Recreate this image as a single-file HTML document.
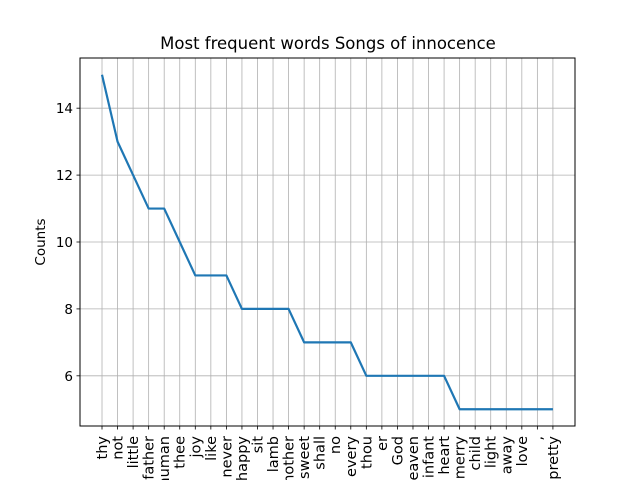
<!DOCTYPE html>
<html><head><meta charset="utf-8"><style>body{margin:0;background:#fff}svg{display:block;font-family:"DejaVu Sans","Liberation Sans",sans-serif}</style></head>
<body>
<svg id="c" width="640" height="480" viewBox="0 0 640 480">
<rect width="640" height="480" fill="#fff"/>
<text x="328" y="49" font-size="16.5" text-anchor="middle">Most frequent words Songs of innocence</text>
<text transform="translate(45,242) rotate(-90)" font-size="13.5" text-anchor="middle">Counts</text>
<g id="grid"></g><g id="ticks"></g><g id="series"></g>
<rect x="80" y="58" width="495" height="368" fill="none" stroke="#000" stroke-width="1"/>
</svg>
<script>
const words=["thy","not","little","father","human","thee","joy","like","never","happy","sit","lamb","mother","sweet","shall","no","every","thou","er","God","heaven","infant","heart","merry","child","light","away","love",",","pretty"];
const counts=[15,13,12,11,11,10,9,9,9,8,8,8,8,7,7,7,7,6,6,6,6,6,6,5,5,5,5,5,5,5];
const yTicks=[6,8,10,12,14];
const NS="http://www.w3.org/2000/svg";
const L=80,R=575,T=58,B=426;
const xmin=-1.415,xmax=words.length-1+1.42;
const ymin=4.5,ymax=15.5;
const xs=i=>L+(i-xmin)/(xmax-xmin)*(R-L);
const ys=v=>B-(v-ymin)/(ymax-ymin)*(B-T);
function mk(t,a,p){const e=document.createElementNS(NS,t);for(const k in a)e.setAttribute(k,a[k]);p.appendChild(e);return e;}
const g=document.getElementById('grid'),tk=document.getElementById('ticks'),s=document.getElementById('series');
words.forEach((w,i)=>{
 const x=xs(i);
 const gl=mk('line',{x1:x,x2:x,y1:T,y2:B,stroke:'#b0b0b0','stroke-width':0.8},g);
 
 
 const tl=mk('line',{x1:x,x2:x,y1:B,y2:B+3.5,stroke:'#000','stroke-width':0.8},tk);
 
 
 const t=mk('text',{transform:`translate(${x+5},${B+10}) rotate(-90)`,'font-size':14.5,'text-anchor':'end'},tk);
 t.textContent=w;
 
 
});
yTicks.forEach(v=>{
 const y=ys(v);
 const gl=mk('line',{x1:L,x2:R,y1:y,y2:y,stroke:'#b0b0b0','stroke-width':0.8},g);
 
 
 const tl=mk('line',{x1:L-3.5,x2:L,y1:y,y2:y,stroke:'#000','stroke-width':0.8},tk);
 
 
 const t=mk('text',{x:L-7,y:y+5,'font-size':13.5,'text-anchor':'end'},tk);
 t.textContent=v;
 
 
});
const pts=counts.map((c,i)=>xs(i)+','+ys(c)).join(' ');
const pl=mk('polyline',{points:pts,fill:'none',stroke:'#1f77b4','stroke-width':2.2,'stroke-linejoin':'round'},s);


</script>
</body></html>
